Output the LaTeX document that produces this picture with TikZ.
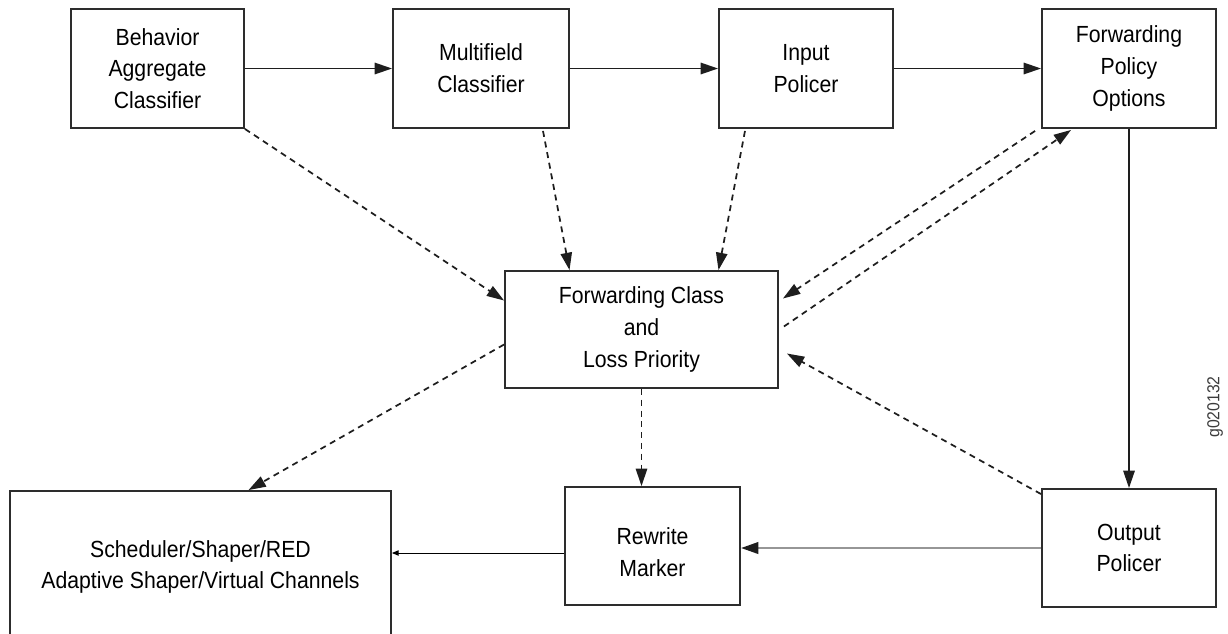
\documentclass[tikz,border=0pt]{standalone}
\usepackage{fontspec}
\setmainfont{Liberation Sans}[FakeStretch=0.91]
\usetikzlibrary{arrows.meta,calc}

\tikzset{every picture/.style={line width=0.75pt}}
\tikzset{
  box/.style={draw, color={rgb, 255:red, 45; green, 45; blue, 45 }, text=black, line width=1.4pt, align=center, inner sep=0pt, font=\fontsize{17.5}{23.8}\selectfont},
  flow/.style={-{Triangle[length=13pt,width=8.5pt]}, line width=1.4pt, color={rgb, 255:red, 30; green, 30; blue, 30 }},
  dasharrow/.style={flow, line width=1.3pt, dash pattern={on 4.5pt off 3.6pt}},
  thinflow/.style={-{Triangle[length=5pt,width=4pt]}, line width=0.7pt},
}

\begin{document}
\begin{tikzpicture}[x=0.75pt,y=0.75pt,yscale=-1,xscale=1]
\useasboundingbox (0,0) rectangle (1228,633);
\clip (0,0) rectangle (1228,633);

%Shape: Rectangle [id:ba]
\node (ba) [box, minimum width=129.75pt, minimum height=89.25pt] at (157.5,68.5) {Behavior\\Aggregate\\Classifier};
%Shape: Rectangle [id:mf]
\node (mf) [box, minimum width=132pt, minimum height=89.25pt] at (481,68.5) {Multifield\\Classifier};
%Shape: Rectangle [id:ip]
\node (ip) [box, minimum width=130.5pt, minimum height=89.25pt] at (806,68.5) {Input\\Policer};
%Shape: Rectangle [id:fpo]
\node (fpo) [box, minimum width=130.5pt, minimum height=89.25pt] at (1129,68.5) {Forwarding\\Policy\\Options};
%Shape: Rectangle [id:fc]
\node (fc) [box, minimum width=204.75pt, minimum height=87.75pt] at (641.5,329.5) {Forwarding Class\\and\\Loss Priority};
%Shape: Rectangle [id:sched]
\node (sched) [box, minimum width=285.75pt, minimum height=114pt] at (200.5,567) {Scheduler/Shaper/RED\\Adaptive Shaper/Virtual Channels};
%Shape: Rectangle [id:rm]
\node (rm) [box, minimum width=131.25pt, minimum height=88.5pt] at (652.5,546) {};
%Shape: Rectangle [id:op]
\node (op) [box, minimum width=130.5pt, minimum height=88.5pt] at (1129,548) {Output\\Policer};

%Straight Lines
\draw [flow] (ba.east) -- (mf.west);
\draw [flow] (mf.east) -- (ip.west);
\draw [flow] (ip.east) -- (fpo.west);
\draw [flow] (fpo.south) -- (op.north);
\draw [flow, color={rgb, 255:red, 150; green, 150; blue, 150 }, line width=2pt, -{Triangle[length=13pt,width=8.5pt,color={rgb, 255:red, 30; green, 30; blue, 30 }]}] (op.west) -- (op.west -| rm.east);
\coordinate (rmout) at ($(rm.west)+(0,7)$);
\draw [thinflow] (rmout) -- (rmout -| sched.east);

%Dashed Lines
\draw [dasharrow] (ba.south east) -- ($(fc.west)+(0,-29)$);
\draw [dasharrow] ($(mf.south)+(62,2)$) -- ($(fc.north)+(-72,0)$);
\draw [dasharrow] ($(ip.south)+(-61,2)$) -- ($(fc.north)+(77,0)$);
\draw [dasharrow] ($(fpo.south west)+(-6,2)$) -- ($(fc.east)+(4,-31)$);
\draw [dasharrow] ($(fc.east)+(5,-3)$) -- ($(fpo.south west)+(30,1)$);
\draw [dasharrow] ($(fc.west)+(0,15)$) -- ($(sched.north)+(48,0)$);
\draw [dasharrow] (fc.south) -- (fc.south |- rm.north);
\draw [dasharrow] ($(op.north west)+(0,6)$) -- ($(fc.east)+(8,24)$);

% Text Node
\node (rmtext) [align=center, inner sep=0pt, font=\fontsize{17.5}{23.8}\selectfont] at ($(rm.center)+(0,6)$) {Rewrite\\Marker};
% Text Node
\node (tag) [rotate=90, inner sep=0pt, font=\fontsize{13}{15}\selectfont, color={rgb, 255:red, 60; green, 60; blue, 60 }] at (1215,407) {g020132};

\end{tikzpicture}
\end{document}
